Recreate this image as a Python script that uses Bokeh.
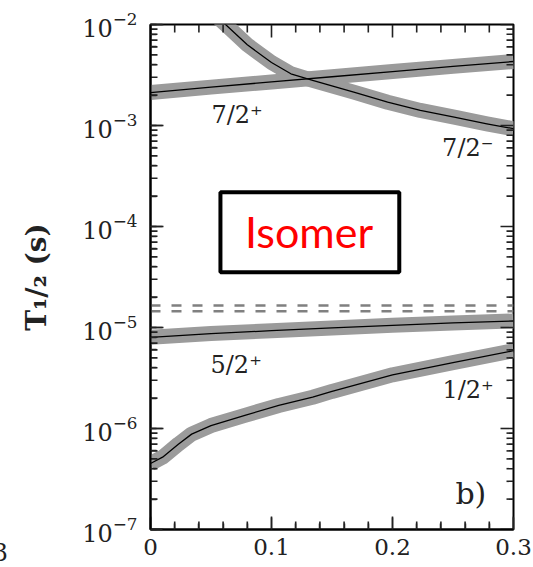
import numpy as np
from bokeh.plotting import figure
from bokeh.layouts import row
from bokeh.models import (Range1d, FixedTicker, LogTicker, Label, BoxAnnotation, Div)
from bokeh.embed import file_html
from bokeh.resources import INLINE

# ---------------- data ----------------
x_72p = [0.0, 0.05, 0.10, 0.15, 0.20, 0.25, 0.30]
t_72p = [2.12e-3, 2.40e-3, 2.70e-3, 3.04e-3, 3.42e-3, 3.85e-3, 4.30e-3]

x_72m = [0.050, 0.062, 0.080, 0.100, 0.116, 0.134, 0.168, 0.196, 0.223, 0.251, 0.278, 0.300]
t_72m = [1.35e-2, 1.0e-2, 6.3e-3, 4.2e-3, 3.25e-3, 2.80e-3, 2.14e-3, 1.70e-3, 1.41e-3, 1.21e-3, 1.04e-3, 9.3e-4]

x_52p = [0.0, 0.05, 0.10, 0.15, 0.20, 0.25, 0.30]
t_52p = [8.0e-6, 8.7e-6, 9.3e-6, 9.9e-6, 1.05e-5, 1.11e-5, 1.16e-5]

x_12p = [0.0, 0.010, 0.023, 0.034, 0.050, 0.078, 0.106, 0.134, 0.150, 0.200, 0.250, 0.300]
t_12p = [4.5e-7, 5.2e-7, 7.0e-7, 8.8e-7, 1.07e-6, 1.35e-6, 1.69e-6, 2.04e-6, 2.33e-6, 3.40e-6, 4.50e-6, 5.90e-6]

dash_x = [0.0, 0.3]
dash_levels = [1.65e-5, 1.45e-5]

x_tick_values = [0, 0.1, 0.2, 0.3]
x_tick_labels = ["0", "0.1", "0.2", "0.3"]
x_minor_ticks = [0.02, 0.04, 0.06, 0.08, 0.12, 0.14, 0.16, 0.18, 0.22, 0.24, 0.26, 0.28]

y_major_ticks = [1e-7, 1e-6, 1e-5, 1e-4, 1e-3, 1e-2]
y_minor_ticks = [k * d for d in y_major_ticks[:-1] for k in range(2, 10)]

state_labels = ["7/2\u207a", "7/2\u207b", "5/2\u207a", "1/2\u207a"]
state_label_x = [0.0504, 0.241, 0.0496, 0.2413]
state_label_y = [1.285e-3, 6.05e-4, 4.21e-6, 2.43e-6]

y_title = "T\u2081/\u2082 (s)"
cut_label = "3"

# ---------------- figure ----------------
FONT = "DejaVu Serif"
TICK = "#222222"
FW, FH = 363, 505
p = figure(frame_width=FW, frame_height=FH,
           x_range=Range1d(0, 0.3), y_range=Range1d(1e-7, 1e-2),
           y_axis_type="log", output_backend="svg", toolbar_location=None,
           min_border_left=142, min_border_right=20, min_border_top=24,
           min_border_bottom=36, margin=(0, 0, 0, 0))
p.grid.visible = False
p.outline_line_color = "black"
p.outline_line_width = 2
p.background_fill_color = "white"
p.border_fill_color = "white"

for ax in (p.xaxis[0], p.yaxis[0]):
    ax.axis_line_color = "black"
    ax.axis_line_width = 2
    ax.major_tick_in = 12
    ax.major_tick_out = 0
    ax.minor_tick_in = 6
    ax.minor_tick_out = 0
    ax.major_tick_line_color = TICK
    ax.minor_tick_line_color = TICK
    ax.major_tick_line_width = 1.5
    ax.minor_tick_line_width = 1.5
    ax.major_label_text_font = FONT
    ax.major_label_text_color = TICK

p.xaxis.ticker = FixedTicker(ticks=x_tick_values, minor_ticks=x_minor_ticks)
p.xaxis.major_label_overrides = dict(zip(x_tick_values, x_tick_labels))
p.xaxis.major_label_standoff = 9
p.xaxis.major_label_text_font_size = "23px"
p.yaxis.ticker = LogTicker()
p.yaxis.major_label_standoff = 13
p.yaxis.major_label_text_font_size = "24px"
p.yaxis.axis_label = y_title
p.yaxis.axis_label_text_font = FONT
p.yaxis.axis_label_text_font_size = "28px"
p.yaxis.axis_label_text_font_style = "bold"
p.yaxis.axis_label_text_color = TICK
p.yaxis.axis_label_standoff = 26

# bands (thick grey) then centre lines
BAND = "#9b9b9b"
curves = [(x_72p, t_72p), (x_72m, t_72m), (x_52p, t_52p), (x_12p, t_12p)]
for xs, ts in curves:
    p.line(xs, ts, line_color=BAND, line_width=15, line_join="round")
for xs, ts in curves:
    p.line(xs, ts, line_color="black", line_width=1.3, line_join="round")

for lvl in dash_levels:
    p.line(dash_x, [lvl, lvl], line_color="#808080", line_width=2.5, line_dash="10 11")

# inward ticks on all four sides: small screen-sized rectangles whose centres lie
# half a tick length inside the frame edge (no coordinate sits on the boundary)
x0, x1 = p.x_range.start, p.x_range.end
y0, y1 = p.y_range.start, p.y_range.end
dx_px = (x1 - x0) / FW                       # data units per pixel (x)
dlog_px = (np.log10(y1) - np.log10(y0)) / FH  # decades per pixel (y)

for ticks, ln in [(y_major_ticks, 12), (y_minor_ticks, 6)]:
    n = len(ticks)
    for xc in (x0 + (ln / 2 + 0.5) * dx_px, x1 - (ln / 2 + 0.5) * dx_px):
        p.rect(x=[xc] * n, y=ticks, width=ln + 1, height=1.6,
               width_units="screen", height_units="screen",
               fill_color=TICK, line_color=None)
for ticks, ln in [(x_tick_values, 12), (x_minor_ticks, 7)]:
    n = len(ticks)
    for yc in (y0 * 10 ** ((ln / 2 + 0.5) * dlog_px), y1 / 10 ** ((ln / 2 + 0.5) * dlog_px)):
        p.rect(x=ticks, y=[yc] * n, width=1.6, height=ln + 1,
               width_units="screen", height_units="screen",
               fill_color=TICK, line_color=None)

for txt, lx, ly in zip(state_labels, state_label_x, state_label_y):
    p.add_layout(Label(x=lx, y=ly, text=txt, text_font=FONT, text_font_size="24px",
                       text_color=TICK, text_align="left", text_baseline="alphabetic"))

p.add_layout(Label(x=0.252, y=2.27e-7, text="b)", text_font=FONT, text_font_size="30px",
                   text_color=TICK, text_align="left", text_baseline="alphabetic"))

# Isomer box
p.add_layout(BoxAnnotation(left=0.0578, right=0.2056, top=10 ** -3.660, bottom=10 ** -4.452,
                           fill_color="white", fill_alpha=1.0, line_color="black",
                           line_width=4, line_alpha=1.0))
p.add_layout(Label(x=0.131, y=8.91e-5, text="Isomer", text_font="Lato", text_font_size="43px",
                   text_color="#ff0000", text_align="center", text_baseline="alphabetic"))

# clipped tick label of the neighbouring panel (left edge of the picture)
side = Div(text=cut_label, width=8, height=567, margin=(0, 0, 0, 0),
           styles={"font-family": "DejaVu Serif", "font-size": "24px", "color": TICK,
                   "overflow": "hidden", "white-space": "nowrap", "direction": "rtl",
                   "line-height": "24px", "padding-top": "541px", "box-sizing": "border-box"})

layout = row(side, p, spacing=0, margin=(0, 0, 0, 0))
open("out.html", "w").write(file_html(layout, INLINE))
